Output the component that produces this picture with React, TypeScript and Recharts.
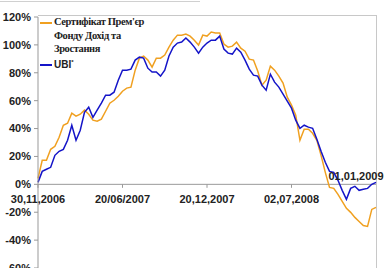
import { LineChart, Line, XAxis, YAxis, ReferenceLine } from "recharts";

// trading-period index 0..80, ticks every 20 steps
const dateTicks = [
	{ i: 0, label: "30,11,2006" },
	{ i: 20, label: "20/06/2007" },
	{ i: 40, label: "20,12,2007" },
	{ i: 60, label: "02,07,2008" },
];
const endLabel = "01,01,2009";

const yTicks = [-60, -40, -20, 0, 20, 40, 60, 80, 100, 120];

const fundSeries = [
	4.3, 17.2, 17.2, 25.1, 27.3, 33.8, 42.4, 43.8, 51.0, 48.9,
	50.3, 53.2, 50.3, 46.0, 45.3, 46.7, 52.4, 58.2, 60.3, 63.2,
	66.8, 69.0, 69.7, 81.9, 90.5, 92.0, 89.1, 84.1, 90.5, 90.5,
	92.7, 98.4, 103.4, 107.0, 107.0, 107.8, 106.3, 103.4, 99.9, 107.0,
	106.3, 109.2, 108.5, 108.5, 100.6, 98.4, 99.1, 102.0, 97.7, 95.5,
	89.8, 89.1, 81.2, 71.1, 74.7, 84.8, 81.9, 77.6, 72.6, 62.5,
	56.8, 49.6, 31.6, 39.5, 39.5, 36.6, 31.6, 20.8, 8.6, -2.2,
	-2.9, -7.2, -12.2, -17.2, -20.1, -23.7, -26.6, -29.5, -30.2, -18.0,
	-16.5,
];

const ubiSeries = [
	1.4, 9.3, 10.8, 12.2, 20.8, 23.7, 25.1, 31.6, 42.4, 31.6,
	38.8, 51.7, 55.3, 48.1, 53.2, 58.2, 63.9, 63.9, 66.1, 74.7,
	81.9, 81.9, 82.6, 89.1, 91.2, 90.5, 83.3, 80.5, 80.5, 77.6,
	81.9, 92.0, 98.4, 101.3, 102.0, 104.9, 102.0, 98.4, 94.1, 98.4,
	101.3, 103.4, 103.4, 106.3, 97.0, 94.1, 93.4, 97.7, 94.8, 89.1,
	82.6, 78.3, 77.6, 71.1, 67.5, 79.0, 73.3, 69.7, 64.7, 59.6,
	54.6, 46.0, 40.2, 42.4, 41.0, 40.2, 32.3, 23.7, 15.8, 9.3,
	8.6, 2.9, -4.3, -10.8, -2.9, -1.4, -4.3, -3.6, -2.9, 0.0,
	1.4,
];

const data = fundSeries.map((v, i) => ({ i, fund: v, ubi: ubiSeries[i] }));

const ORANGE = "rgb(240, 160, 32)";
const BLUE = "rgb(20, 20, 200)";
const labelFont = { fontFamily: "Arial, 'Liberation Sans', sans-serif", fontWeight: 700, fontSize: 11, fill: "#222" };

function LegendBox() {
	const sample = (c: string) => (
		<span style={{ display: "inline-block", width: 12, height: 2, background: c, verticalAlign: "middle", marginRight: 2 }} />
	);
	return (
		<div style={{ position: "absolute", left: 40, top: 15, fontFamily: "'Liberation Serif', 'Times New Roman', serif", fontWeight: 700, fontSize: 10.5, letterSpacing: -0.4, color: "#222", lineHeight: "13.5px", whiteSpace: "nowrap" }}>
			<div>{sample(ORANGE)}Сертифікат Прем'єр</div>
			<div style={{ paddingLeft: 14 }}>Фонду Дохід та</div>
			<div style={{ paddingLeft: 14 }}>Зростання</div>
			<div style={{ fontFamily: "Arial, 'Liberation Sans', sans-serif", fontSize: 10, letterSpacing: 0 }}>
				{sample(BLUE)}UBI<sup style={{ fontSize: 6 }}>*</sup>
			</div>
		</div>
	);
}

export default function App() {
	return (
		<div style={{ position: "absolute", left: 0, top: 0, width: 384, height: 268, background: "#fff", overflow: "hidden" }}>
			<div style={{ position: "absolute", left: 0, top: 1, width: 200, height: 1, background: "#d0d0d0" }} />
			<div style={{ position: "absolute", left: 38, top: 15, width: 338, height: 270, border: "1px solid #c8c8c8", borderLeft: "none" }} />
			<LineChart width={384} height={268} data={data} margin={{ top: 17, right: 8, left: 0, bottom: 0 }}>
				<XAxis dataKey="i" type="number" domain={[0, 80]} hide />
				<YAxis
					type="number"
					domain={[-60, 120]}
					ticks={yTicks}
					interval={0}
					width={38}
					tickFormatter={(v: number) => `${v}%`}
					axisLine={{ stroke: "#999" }}
					tickLine={{ stroke: "#999" }}
					tickSize={4}
					tickMargin={3}
					tick={labelFont}
				/>
				<ReferenceLine y={0} stroke="#999" />
				{dateTicks.map((t) => (
					<ReferenceLine
						key={t.label}
						segment={[{ x: t.i, y: 0 }, { x: t.i, y: -2.5 }]}
						stroke="#999"
						ifOverflow="visible"
						label={{ value: t.label, position: "bottom", offset: 7, ...labelFont }}
					/>
				))}
				<ReferenceLine
					segment={[{ x: 80, y: 0 }, { x: 80, y: 2 }]}
					stroke="none"
					ifOverflow="visible"
					label={{ value: endLabel, position: "top", offset: 2, dx: -20, ...labelFont }}
				/>
				<Line type="linear" dataKey="fund" stroke={ORANGE} strokeWidth={1.5} dot={false} isAnimationActive={false} />
				<Line type="linear" dataKey="ubi" stroke={BLUE} strokeWidth={1.5} dot={false} isAnimationActive={false} />
			</LineChart>
			<LegendBox />
		</div>
	);
}
